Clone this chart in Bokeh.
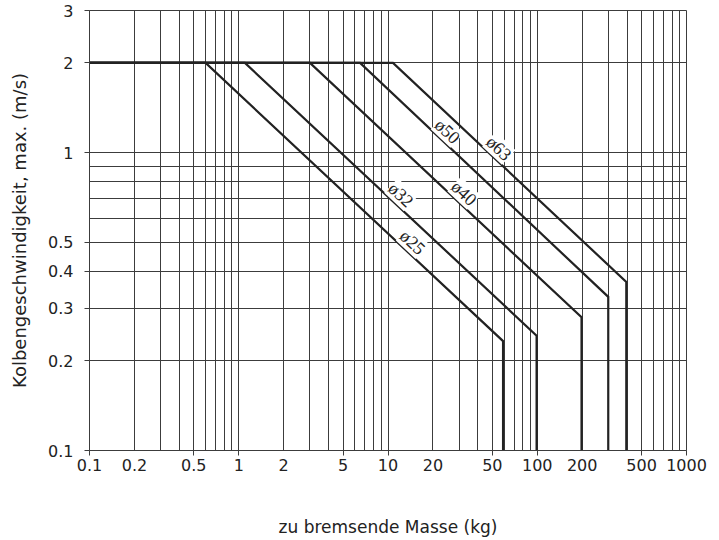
import math
from bokeh.plotting import figure
from bokeh.models import ColumnDataSource, FixedTicker, LabelSet, Range1d
from bokeh.embed import file_html
from bokeh.resources import INLINE

# ---- data ----
bores = ["ø25", "ø32", "ø40", "ø50", "ø63"]
v_max = 2.0                                   # m/s, plateau of all curves
mass_knee = [0.6, 1.1, 3.0, 6.5, 10.8]        # kg where the curve leaves 2 m/s
mass_max = [59, 99, 198, 299, 395]            # kg, max. mass (vertical end)
v_at_mass_max = [0.233, 0.243, 0.28, 0.328, 0.368]  # m/s at max. mass
label_mass = [14.6, 12.2, 32.3, 25.0, 55.3]   # kg where the bore label sits

x_min, x_max = 0.1, 1000
y_min, y_max = 0.1, 3

x_tick_values = [0.1, 0.2, 0.5, 1, 2, 5, 10, 20, 50, 100, 200, 500, 1000]
x_tick_labels = ["0.1", "0.2", "0.5", "1", "2", "5", "10", "20", "50", "100", "200", "500", "1000"]
x_tick_marks = [0.1, 0.5, 1, 5, 10, 50, 100, 500, 1000]
y_tick_values = [0.1, 0.2, 0.3, 0.4, 0.5, 1, 2, 3]
y_tick_labels = ["0.1", "0.2", "0.3", "0.4", "0.5", "1", "2", "3"]
y_grid_values = [0.2, 0.3, 0.4, 0.5, 0.6, 0.7, 0.8, 0.9, 1, 2, 3]
x_grid_values = [k * 10.0 ** d for d in range(-1, 3) for k in range(1, 10)] + [1000]

FONT = "DejaVu Sans"
INK = "#222222"
GRID = "#3c3c3c"

p = figure(width=719, height=540, x_axis_type="log", y_axis_type="log",
           x_range=Range1d(x_min, x_max), y_range=Range1d(y_min, y_max),
           output_backend="svg", toolbar_location=None, title=None,
           min_border_left=89, min_border_right=33, min_border_top=10,
           min_border_bottom=90, background_fill_color="white",
           border_fill_color="white")
p.outline_line_color = GRID
p.outline_line_width = 1

# grid
p.xgrid.ticker = FixedTicker(ticks=x_grid_values)
p.ygrid.ticker = FixedTicker(ticks=y_grid_values)
for g in (p.xgrid, p.ygrid):
    g.grid_line_color = GRID
    g.grid_line_width = 1
    g.minor_grid_line_color = None

# x axis
xa = p.xaxis[0]
xa.ticker = FixedTicker(ticks=x_tick_values, minor_ticks=x_tick_marks)
xa.major_label_overrides = {v: s for v, s in zip(x_tick_values, x_tick_labels)}
xa.major_tick_out = 0
xa.major_tick_in = 0
xa.minor_tick_out = 5
xa.minor_tick_in = 0
xa.minor_tick_line_color = GRID
xa.axis_line_color = GRID
xa.major_label_standoff = 3
xa.major_label_text_font = FONT
xa.major_label_text_font_size = "16px"
xa.major_label_text_color = INK
xa.axis_label = "zu bremsende Masse (kg)"
xa.axis_label_text_font = FONT
xa.axis_label_text_font_size = "17px"
xa.axis_label_text_font_style = "normal"
xa.axis_label_text_color = INK
xa.axis_label_standoff = 43

# y axis
ya = p.yaxis[0]
ya.ticker = FixedTicker(ticks=y_tick_values, minor_ticks=[])
ya.major_label_overrides = {v: s for v, s in zip(y_tick_values, y_tick_labels)}
ya.major_tick_out = 5
ya.major_tick_in = 0
ya.major_tick_line_color = GRID
ya.axis_line_color = GRID
ya.major_label_standoff = 11
ya.major_label_text_font = FONT
ya.major_label_text_font_size = "16px"
ya.major_label_text_color = INK
ya.axis_label = "Kolbengeschwindigkeit, max. (m/s)"
ya.axis_label_text_font = FONT
ya.axis_label_text_font_size = "18px"
ya.axis_label_text_font_style = "normal"
ya.axis_label_text_color = INK
ya.axis_label_standoff = 15

# curves
xs, ys = [], []
for mk, mm, ve in zip(mass_knee, mass_max, v_at_mass_max):
    xs.append([x_min, mk, mm, mm])
    ys.append([v_max, v_max, ve, y_min])
p.multi_line(xs=xs, ys=ys, line_color=INK, line_width=2.2, line_join="miter")

# bore labels on the diagonal parts
lab_x, lab_y = [], []
for mk, mm, ve, lm in zip(mass_knee, mass_max, v_at_mass_max, label_mass):
    slope = (math.log10(ve) - math.log10(v_max)) / (math.log10(mm) - math.log10(mk))
    lv = math.log10(v_max) + slope * (math.log10(lm) - math.log10(mk))
    lab_x.append(lm)
    lab_y.append(10 ** lv)
lab_src = ColumnDataSource(dict(x=lab_x, y=lab_y, text=bores))
p.add_layout(LabelSet(x="x", y="y", text="text", source=lab_src,
                      angle=-0.752, y_offset=14,
                      text_align="center", text_baseline="middle",
                      text_font=FONT, text_font_size="18px", text_color=INK,
                      background_fill_color="white"))

open("out.html", "w").write(file_html(p, INLINE))
